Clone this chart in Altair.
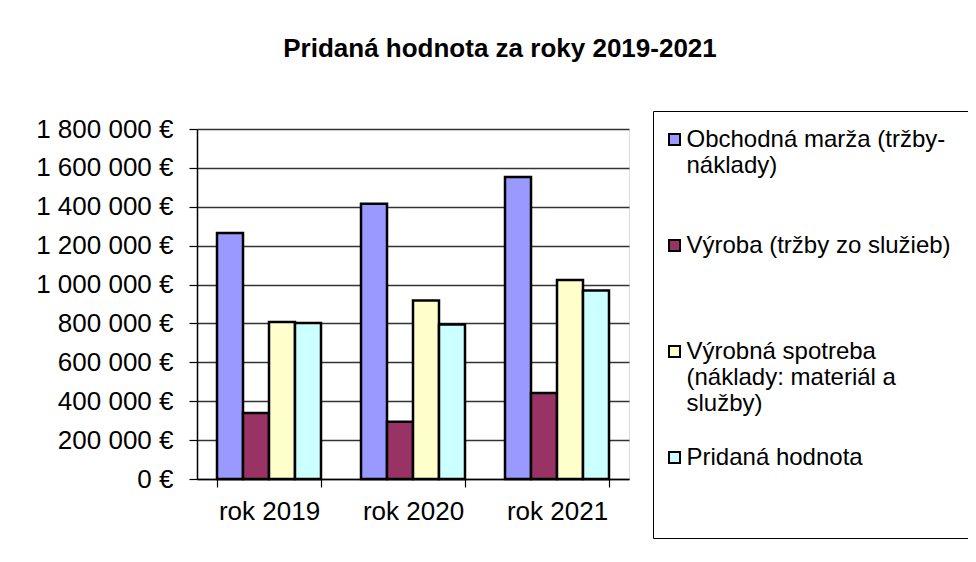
import altair as alt
import pandas as pd

# ---- data ----
years = ["rok 2019", "rok 2020", "rok 2021"]
series = [
    "Obchodná marža (tržby-náklady)",
    "Výroba (tržby zo služieb)",
    "Výrobná spotreba (náklady: materiál a služby)",
    "Pridaná hodnota",
]
obchodna_marza = [1265000, 1415000, 1553000]
vyroba = [340000, 295000, 442000]
vyrobna_spotreba = [808000, 918000, 1024000]
pridana_hodnota = [802000, 794000, 970000]
y_ticks = [0, 200000, 400000, 600000, 800000, 1000000, 1200000, 1400000, 1600000, 1800000]

colors = ["#9999FF", "#993366", "#FFFFCC", "#CCFFFF"]

# legend label line breaks (padded so every entry takes the same height)
legend_lines = {
    series[0]: ["Obchodná marža (tržby-", "náklady)", " ", " "],
    series[1]: ["Výroba (tržby zo služieb)", " ", " ", " "],
    series[2]: ["Výrobná spotreba", "(náklady: materiál a", "služby)", " "],
    series[3]: ["Pridaná hodnota", " ", " "],
}

values = [obchodna_marza, vyroba, vyrobna_spotreba, pridana_hodnota]
rows = []
for s, vals in zip(series, values):
    for y, v in zip(years, vals):
        rows.append({"rok": y, "ukazovateľ": s, "hodnota": v})
df = pd.DataFrame(rows)


def arr(lines):
    return "[" + ", ".join("'" + l + "'" for l in lines) + "]"


label_expr = ""
for s in series[:-1]:
    label_expr += f"datum.label == '{s}' ? {arr(legend_lines[s])} : "
label_expr += arr(legend_lines[series[-1]])

FONT = "Liberation Sans, Arial, sans-serif"

chart = (
    alt.Chart(df)
    .mark_bar(stroke="black", strokeWidth=2.5, opacity=1)
    .encode(
        x=alt.X(
            "rok:N",
            sort=years,
            title=None,
            scale=alt.Scale(paddingInner=0.2778, paddingOuter=0.1389),
            axis=alt.Axis(
                labelAngle=0,
                tickBand="extent",
                tickSize=8,
                tickColor="black",
                tickWidth=1.2,
                domainColor="black",
                domainWidth=1.5,
                labelFontSize=26,
                labelFont=FONT,
                labelColor="black",
                labelPadding=11,
                grid=False,
            ),
        ),
        xOffset=alt.XOffset("ukazovateľ:N", sort=series, scale=alt.Scale(paddingInner=0, paddingOuter=0)),
        y=alt.Y(
            "hodnota:Q",
            title=None,
            scale=alt.Scale(domain=[0, 1800000], nice=False, zero=True),
            axis=alt.Axis(
                values=y_ticks,
                format="$,.0f",
                tickSize=8,
                tickColor="black",
                tickWidth=1.2,
                domainColor="black",
                domainWidth=1.5,
                labelFontSize=26,
                labelFont=FONT,
                labelColor="black",
                labelPadding=16,
                grid=True,
                gridColor="#333333",
                gridWidth=1.4,
                gridOpacity=1,
            ),
        ),
        color=alt.Color(
            "ukazovateľ:N",
            sort=series,
            scale=alt.Scale(domain=series, range=colors),
            legend=alt.Legend(
                title=None,
                orient="none",
                legendX=456,
                legendY=-18,
                padding=16.5,
                strokeColor="black",
                fillColor="white",
                symbolType="square",
                symbolSize=121,
                symbolStrokeColor="black",
                symbolStrokeWidth=2,
                symbolOpacity=1,
                symbolOffset=-7,
                labelFontSize=24,
                labelFont=FONT,
                labelColor="black",
                labelBaseline="middle",
                labelOffset=0,
                labelLimit=500,
                rowPadding=4,
                labelExpr=label_expr,
            ),
        ),
    )
    .properties(
        width=432,
        height=350,
        title=alt.TitleParams(
            "Pridaná hodnota za roky 2019-2021",
            font=FONT,
            fontSize=26,
            fontWeight="bold",
            color="black",
            anchor="middle",
            frame="group",
            dx=87,
            offset=49,
        ),
        autosize=alt.AutoSizeParams(type="none"),
        padding={"left": 189, "top": 121, "right": 339, "bottom": 75},
    )
    .configure_view(fill="#C0C0C0", stroke="#808080", strokeWidth=1.5)
    .configure(
        locale={
            "number": {
                "decimal": ",",
                "thousands": " ",
                "grouping": [3],
                "currency": ["", " €"],
            }
        }
    )
)

chart.save("out.html", embed_options={"renderer": "svg", "actions": False})
